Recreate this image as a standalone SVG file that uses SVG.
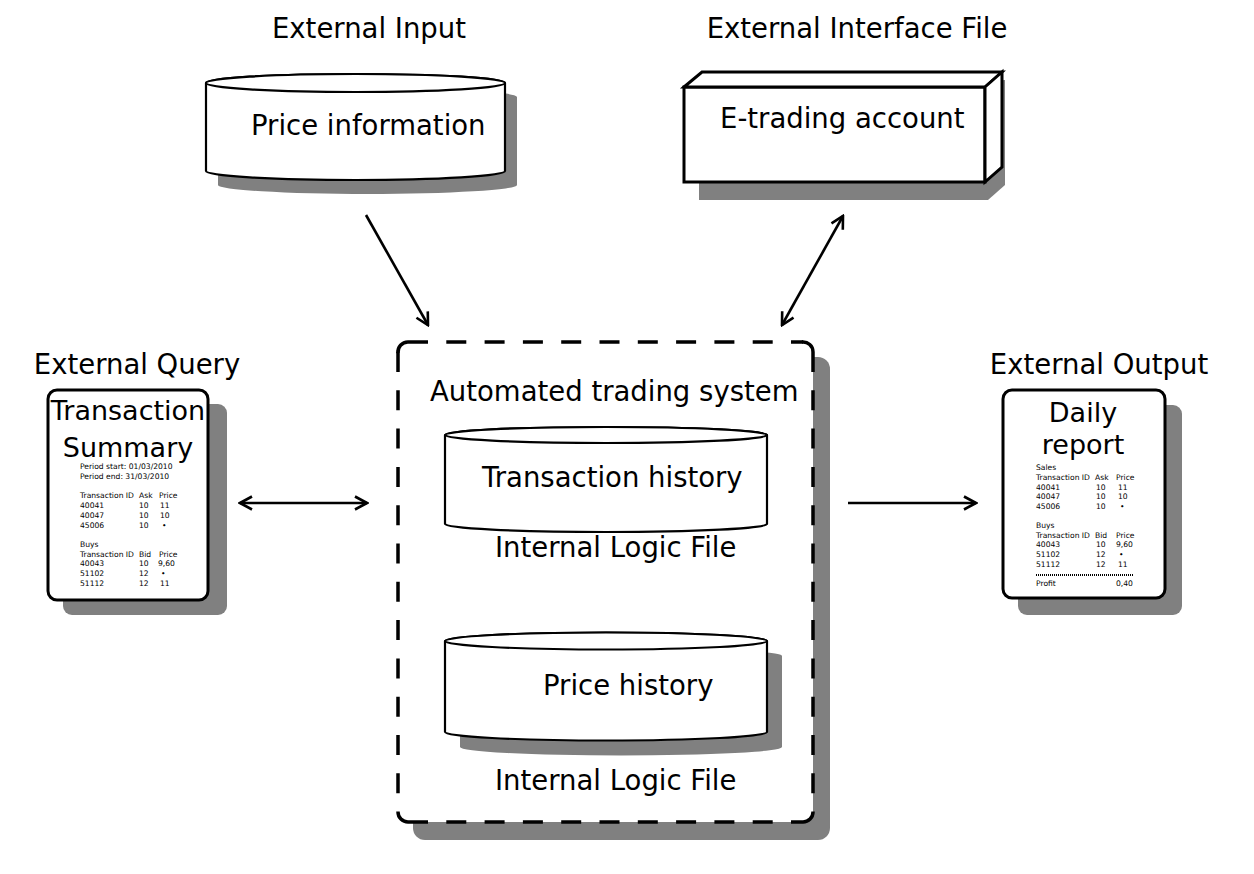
<svg xmlns="http://www.w3.org/2000/svg" width="1254" height="874" viewBox="0 0 1254 874">
<style>
text{font-family:"DejaVu Sans","Liberation Sans",sans-serif;fill:#000}
.lbl{font-size:27.5px}
.sm{font-size:7.6px}
.shadow{fill:#808080;stroke:none}
.shape{fill:#fff;stroke:#000;stroke-width:2.2}
.thick{fill:#fff;stroke:#000;stroke-width:3}
.dash{fill:none;stroke:#000;stroke-width:3.5;stroke-dasharray:20 18.3}
.corner{fill:none;stroke:#000;stroke-width:3.5}
.conn{fill:none;stroke:#000;stroke-width:2.6}
</style>
<defs>
<marker id="ah" viewBox="0 0 16 16" refX="14" refY="8" markerWidth="16" markerHeight="16" markerUnits="userSpaceOnUse" orient="auto-start-reverse">
<path d="M2,1.5 L14,8 L2,14.5" fill="none" stroke="#000" stroke-width="2.6"/>
</marker>
</defs>
<rect width="1254" height="874" fill="#fff"/>

<g id="external-input">
<text class="lbl" x="369" y="38" text-anchor="middle">External Input</text>
<path class="shadow" d="M218,97 V185 A149.5,9 0 0 0 517,185 V97 A149.5,9 0 0 0 218,97 Z"/>
<path class="shape" d="M206,83 V171 A149.5,9 0 0 0 505,171 V83 A149.5,9 0 0 0 206,83 Z"/>
<ellipse class="shape" cx="355.5" cy="83" rx="149.5" ry="9"/>
<text class="lbl" x="251" y="135">Price information</text>
</g>

<g id="external-interface-file">
<text class="lbl" x="857" y="38" text-anchor="middle">External Interface File</text>
<polygon class="shadow" points="699,100 1005,80 1005,185 988,200 699,200"/>
<rect class="thick" x="684" y="87" width="301" height="95"/>
<polygon class="thick" points="684,87 702,72 1002,72 985,87"/>
<polygon class="thick" points="985,87 1002,72 1002,167 985,182"/>
<text class="lbl" x="720" y="128">E-trading account</text>
</g>

<g id="external-query">
<text class="lbl" x="137" y="374" text-anchor="middle">External Query</text>
<rect class="shadow" x="63" y="404" width="164" height="211" rx="9"/>
<rect class="thick" x="48" y="390" width="160" height="210" rx="9"/>
<text x="128" y="420" text-anchor="middle" font-size="27">Transaction</text>
<text x="128" y="457" text-anchor="middle" font-size="27">Summary</text>
<g class="sm">
<text class="sm" x="80" y="469">Period start: 01/03/2010</text>
<text class="sm" x="80" y="479">Period end: 31/03/2010</text>
<text class="sm" x="80" y="498">Transaction ID</text><text class="sm" x="139" y="498">Ask</text><text class="sm" x="159" y="498">Price</text>
<text class="sm" x="80" y="508">40041</text><text class="sm" x="139" y="508">10</text><text class="sm" x="160" y="508">11</text>
<text class="sm" x="80" y="518">40047</text><text class="sm" x="139" y="518">10</text><text class="sm" x="160" y="518">10</text>
<text class="sm" x="80" y="528">45006</text><text class="sm" x="139" y="528">10</text><text class="sm" x="162" y="528">•</text>
<text class="sm" x="80" y="547">Buys</text>
<text class="sm" x="80" y="557">Transaction ID</text><text class="sm" x="139" y="557">Bid</text><text class="sm" x="159" y="557">Price</text>
<text class="sm" x="80" y="566">40043</text><text class="sm" x="139" y="566">10</text><text class="sm" x="158" y="566">9,60</text>
<text class="sm" x="80" y="576">51102</text><text class="sm" x="139" y="576">12</text><text class="sm" x="161" y="576">•</text>
<text class="sm" x="80" y="586">51112</text><text class="sm" x="139" y="586">12</text><text class="sm" x="160" y="586">11</text>
</g>
</g>

<g id="external-output">
<text class="lbl" x="1099" y="374" text-anchor="middle">External Output</text>
<rect class="shadow" x="1018" y="405" width="164" height="210" rx="9"/>
<rect class="thick" x="1003" y="390" width="162" height="208" rx="9"/>
<text x="1083" y="422" text-anchor="middle" font-size="27">Daily</text>
<text x="1083" y="454" text-anchor="middle" font-size="27">report</text>
<text class="sm" x="1036" y="470">Sales</text>
<text class="sm" x="1036" y="480">Transaction ID</text><text class="sm" x="1095" y="480">Ask</text><text class="sm" x="1116" y="480">Price</text>
<text class="sm" x="1036" y="490">40041</text><text class="sm" x="1096" y="490">10</text><text class="sm" x="1118" y="490">11</text>
<text class="sm" x="1036" y="499">40047</text><text class="sm" x="1096" y="499">10</text><text class="sm" x="1118" y="499">10</text>
<text class="sm" x="1036" y="509">45006</text><text class="sm" x="1096" y="509">10</text><text class="sm" x="1120" y="509">•</text>
<text class="sm" x="1036" y="528">Buys</text>
<text class="sm" x="1036" y="538">Transaction ID</text><text class="sm" x="1095" y="538">Bid</text><text class="sm" x="1116" y="538">Price</text>
<text class="sm" x="1036" y="547">40043</text><text class="sm" x="1096" y="547">10</text><text class="sm" x="1116" y="547">9,60</text>
<text class="sm" x="1036" y="557">51102</text><text class="sm" x="1096" y="557">12</text><text class="sm" x="1119" y="557">•</text>
<text class="sm" x="1036" y="567">51112</text><text class="sm" x="1096" y="567">12</text><text class="sm" x="1118" y="567">11</text>
<line x1="1036" y1="575" x2="1134" y2="575" stroke="#000" stroke-width="2" stroke-dasharray="1 1"/>
<text class="sm" x="1036" y="586">Profit</text><text class="sm" x="1116" y="586">0,40</text>
</g>

<g id="automated-trading-system">
<rect class="shadow" x="413" y="357" width="417" height="483" rx="12"/>
<rect x="398" y="342" width="415" height="480" rx="10" fill="#fff" stroke="none"/>
<line class="dash" x1="408" y1="342" x2="803" y2="342"/>
<line class="dash" x1="408" y1="822" x2="803" y2="822"/>
<line class="dash" x1="398" y1="352" x2="398" y2="812"/>
<line class="dash" x1="813" y1="352" x2="813" y2="812"/>
<path class="corner" d="M398,353 A10,10 0 0 1 408,342"/>
<path class="corner" d="M802,342 A10,10 0 0 1 813,352"/>
<path class="corner" d="M813,812 A10,10 0 0 1 803,822"/>
<path class="corner" d="M408,822 A10,10 0 0 1 398,812"/>
<text class="lbl" x="430" y="401">Automated trading system</text>
</g>

<g id="transaction-history">
<path class="shape" d="M445,435 V524 A161,8 0 0 0 767,524 V435 A161,8 0 0 0 445,435 Z"/>
<ellipse class="shape" cx="606" cy="435" rx="161" ry="8"/>
<text class="lbl" x="482" y="487">Transaction history</text>
<text class="lbl" x="495" y="557">Internal Logic File</text>
</g>

<g id="price-history">
<path class="shadow" d="M460,656 V747 A161,8.5 0 0 0 782,747 V656 A161,8.5 0 0 0 460,656 Z"/>
<path class="shape" d="M445,641 V732 A161,8.5 0 0 0 767,732 V641 A161,8.5 0 0 0 445,641 Z"/>
<ellipse class="shape" cx="606" cy="641" rx="161" ry="8.5"/>
<text class="lbl" x="543" y="695">Price history</text>
<text class="lbl" x="495" y="790">Internal Logic File</text>
</g>

<g id="connectors">
<line class="conn" x1="366" y1="215" x2="428" y2="325" marker-end="url(#ah)"/>
<line class="conn" x1="843" y1="216" x2="782" y2="325" marker-start="url(#ah)" marker-end="url(#ah)"/>
<line class="conn" x1="240" y1="503" x2="367" y2="503" marker-start="url(#ah)" marker-end="url(#ah)"/>
<line class="conn" x1="848" y1="503" x2="976" y2="503" marker-end="url(#ah)"/>
</g>
</svg>
